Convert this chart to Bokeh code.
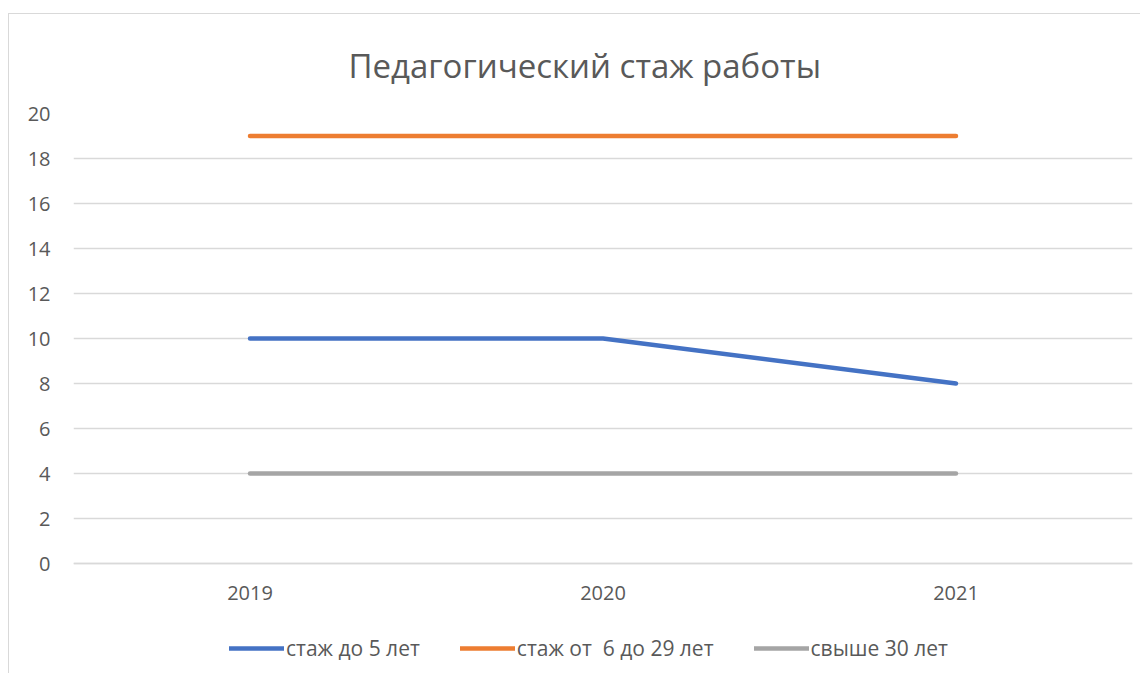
from bokeh.plotting import figure
from bokeh.models import Range1d, FixedTicker, Legend, LegendItem
from bokeh.embed import file_html
from bokeh.resources import INLINE

years = ["2019", "2020", "2021"]
series_names = ["стаж до 5 лет", "стаж от  6 до 29 лет", "свыше 30 лет"]
s_up_to_5 = [10, 10, 8]
s_6_to_29 = [19, 19, 19]
s_over_30 = [4, 4, 4]
colors = ["#4472C4", "#ED7D31", "#A5A5A5"]
y_ticks = list(range(0, 21, 2))

FONT = "Open Sans"
TXT = "#595959"
GRID = "#D9D9D9"

PX_PER_UNIT = 22.5      # vertical scale of the value axis
BOTTOM_PAD_PX = 110     # room under the 0 line for category labels and legend

p = figure(x_range=years, y_range=Range1d(-BOTTOM_PAD_PX / PX_PER_UNIT, 20),
           frame_width=1059, frame_height=int(20 * PX_PER_UNIT + BOTTOM_PAD_PX),
           output_backend="svg", toolbar_location=None,
           title="Педагогический стаж  работы",
           min_border_left=64, min_border_right=8, min_border_top=99, min_border_bottom=0)
p.margin = (13, 0, 0, 8)
p.styles = {"border-left": "1px solid #D9D9D9", "border-top": "1px solid #D9D9D9"}

p.title.align = "left"
p.title.offset = 275
p.title.text_font = FONT
p.title.text_font_size = "33px"
p.title.text_font_style = "normal"
p.title.text_color = TXT
p.title.standoff = 51

p.outline_line_color = None
p.background_fill_color = "white"
p.border_fill_color = "white"

p.xgrid.grid_line_color = None
p.ygrid.grid_line_color = GRID
p.ygrid.grid_line_width = 1.3
p.yaxis.ticker = FixedTicker(ticks=y_ticks)

for ax in (p.xaxis, p.yaxis):
    ax.major_tick_line_color = None
    ax.minor_tick_line_color = None
    ax.major_tick_out = 0
    ax.major_tick_in = 0
    ax.axis_label = None
    ax.major_label_text_font = FONT
    ax.major_label_text_font_size = "20px"
    ax.major_label_text_color = TXT
p.yaxis.axis_line_color = None
p.xaxis.axis_line_color = GRID
p.xaxis.axis_line_width = 1.3
p.xaxis.fixed_location = 0
p.yaxis.major_label_standoff = 23
p.xaxis.major_label_standoff = 22

items = []
for name, vals, c in zip(series_names, [s_up_to_5, s_6_to_29, s_over_30], colors):
    r = p.line(years, vals, line_color=c, line_width=4.5, line_cap="round", line_join="round")
    items.append(LegendItem(label=name, renderers=[r]))

legend = Legend(items=items, orientation="horizontal", location=(156, 11),
                glyph_width=55, glyph_height=12, label_standoff=2, spacing=40,
                label_text_font=FONT, label_text_font_size="21px", label_text_color=TXT,
                border_line_color=None, background_fill_alpha=0, padding=0, margin=0)
p.add_layout(legend, "center")

open("out.html", "w").write(file_html(p, INLINE))
